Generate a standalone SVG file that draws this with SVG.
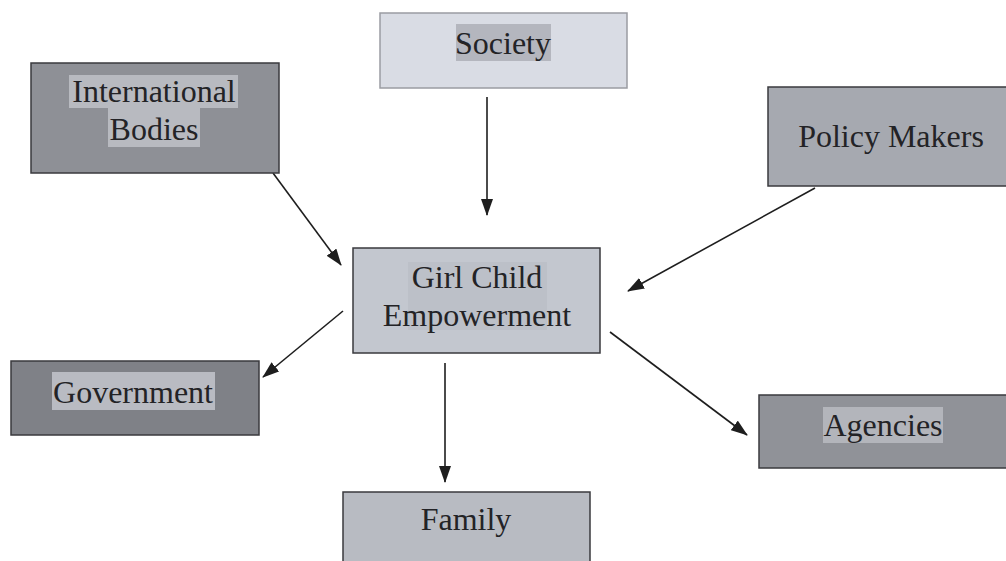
<svg xmlns="http://www.w3.org/2000/svg" width="1006" height="561" viewBox="0 0 1006 561">
<defs>
<style>
.box{stroke:#3a3a3e;stroke-width:1.5}
.hl{stroke:none}
text{font-family:'Liberation Serif','Times New Roman','DejaVu Serif',serif;font-size:32px;fill:#232326;text-anchor:middle}
.c{stroke:#1e1e1e;stroke-width:1.6;fill:none;marker-end:url(#ah)}
</style>
<marker id="ah" viewBox="0 0 17 12" refX="16" refY="6" markerWidth="17" markerHeight="12" markerUnits="userSpaceOnUse" orient="auto">
<path d="M0,0 L17,6 L0,12 Z" fill="#1e1e1e"/>
</marker>
</defs>
<rect width="1006" height="561" fill="#ffffff"/>
<g id="connectors">
<line class="c" x1="487" y1="97" x2="487" y2="215"/>
<line class="c" x1="273" y1="173" x2="341" y2="265"/>
<line class="c" x1="815" y1="188" x2="628" y2="291"/>
<line class="c" x1="343" y1="311" x2="263" y2="377"/>
<line class="c" x1="610" y1="332" x2="747" y2="435"/>
<line class="c" x1="445" y1="363" x2="445" y2="482"/>
</g>
<g id="society">
<rect class="box" x="380" y="13" width="247" height="75" fill="#d9dce4" style="stroke:#9a9ca2"/>
<rect class="hl" x="456" y="24" width="95" height="37" fill="#b4b6be"/>
<text x="503" y="54">Society</text>
</g>
<g id="international-bodies">
<rect class="box" x="31" y="63" width="248" height="110" fill="#8e9096"/>
<rect class="hl" x="69" y="75" width="169" height="33" fill="#b8bac0"/>
<rect class="hl" x="108" y="108" width="92" height="39" fill="#b8bac0"/>
<text x="154" y="102">International</text>
<text x="154" y="140">Bodies</text>
</g>
<g id="policy-makers">
<rect class="box" x="768" y="87" width="240" height="99" fill="#a6a9b0"/>
<text x="891" y="147">Policy Makers</text>
</g>
<g id="girl-child-empowerment">
<rect class="box" x="353" y="248" width="247" height="105" fill="#c3c7cf"/>
<rect class="hl" x="408" y="262" width="139" height="68" fill="#bcc0c8"/>
<text x="477" y="288">Girl Child</text>
<text x="477" y="326">Empowerment</text>
</g>
<g id="government">
<rect class="box" x="11" y="361" width="248" height="74" fill="#7f8187"/>
<rect class="hl" x="52" y="372" width="163" height="38" fill="#b9bbc2"/>
<text x="133" y="403">Government</text>
</g>
<g id="agencies">
<rect class="box" x="759" y="395" width="250" height="73" fill="#909298"/>
<rect class="hl" x="823" y="407" width="120" height="36" fill="#b3b5bb"/>
<text x="883" y="436">Agencies</text>
</g>
<g id="family">
<rect class="box" x="343" y="492" width="247" height="75" fill="#b8bbc2"/>
<text x="466" y="530">Family</text>
</g>
</svg>
